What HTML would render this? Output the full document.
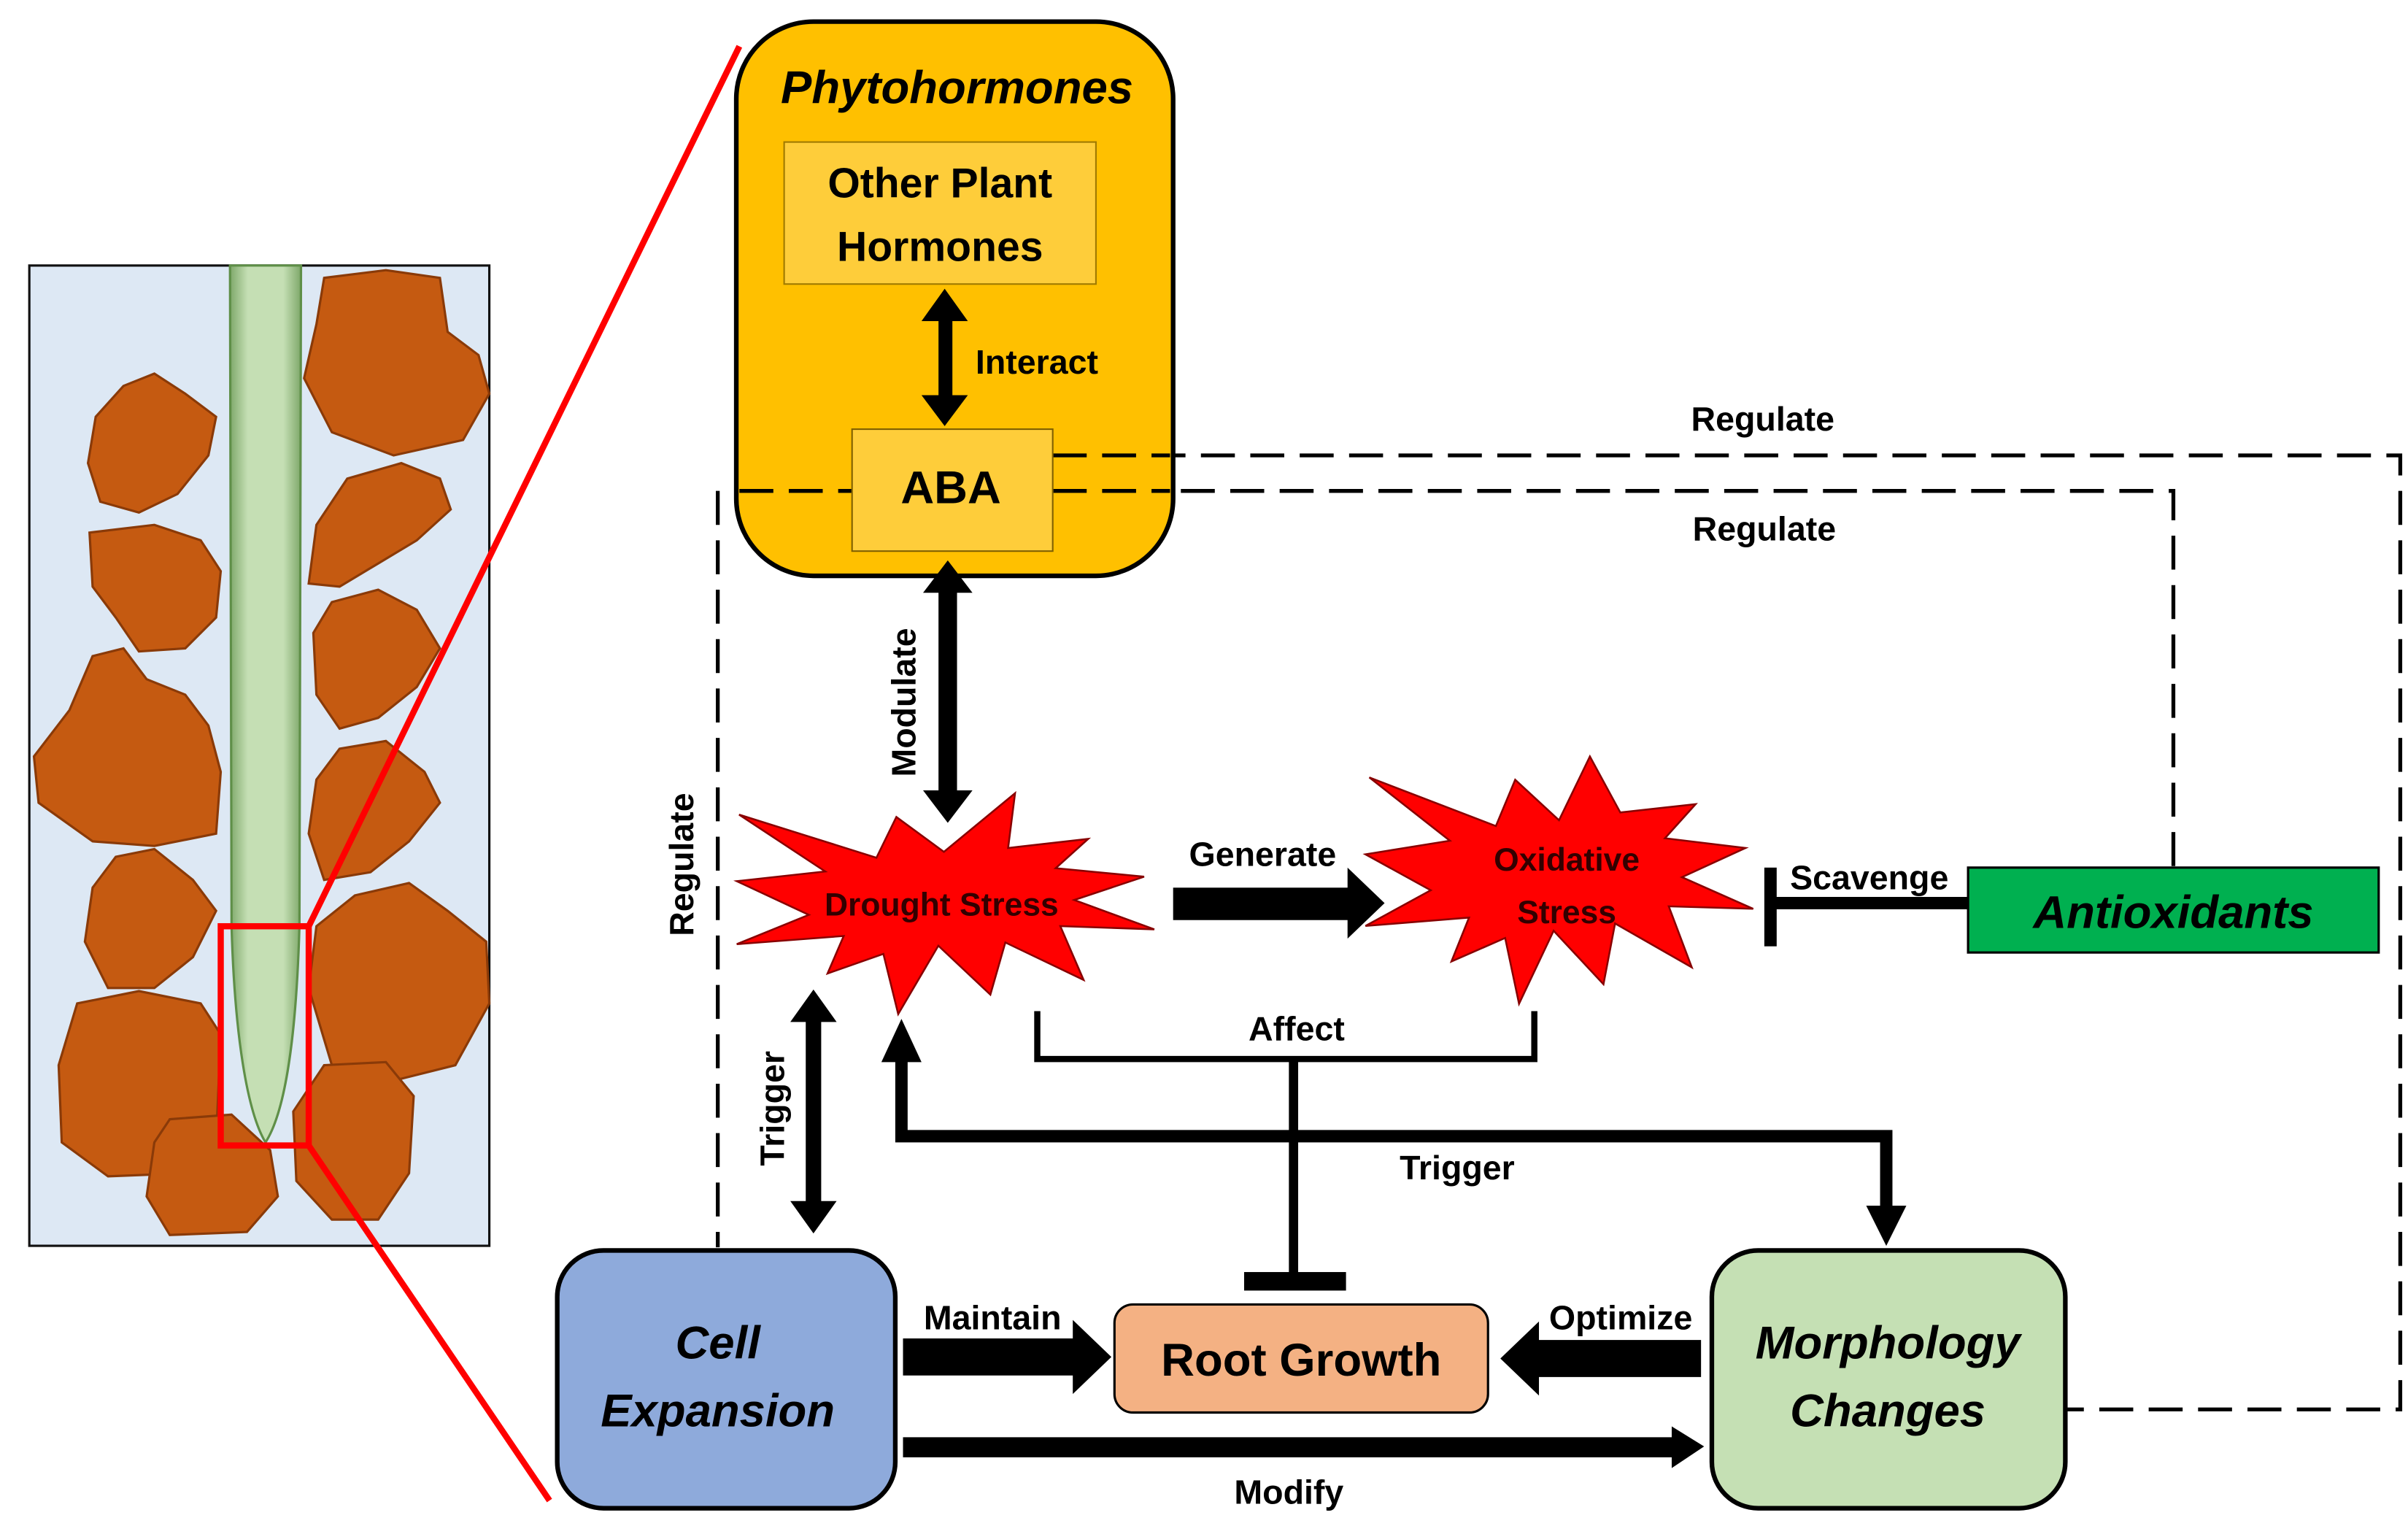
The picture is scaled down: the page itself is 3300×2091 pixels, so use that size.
<!DOCTYPE html>
<html><head><meta charset="utf-8"><style>
html,body{margin:0;padding:0;background:#fff}
svg{display:block}
text{font-family:"Liberation Sans",sans-serif;font-weight:bold}
</style></head><body>
<svg width="3300" height="2091" viewBox="0 0 1560 988.5" preserveAspectRatio="none" xmlns="http://www.w3.org/2000/svg">
<defs>
<linearGradient id="rg" x1="0" x2="1" y1="0" y2="0">
<stop offset="0" stop-color="#7ea86a"/><stop offset="0.25" stop-color="#c5dfb4"/><stop offset="0.75" stop-color="#c5dfb4"/><stop offset="1" stop-color="#7ea86a"/>
</linearGradient>
</defs>
<!-- left panel -->
<rect x="19" y="172" width="298" height="635" fill="#dde8f4" stroke="#111" stroke-width="1.5"/>
<g fill="#c55a11" stroke="#8a3a08" stroke-width="1.5">
<polygon points="80,250 100,242 120,255 140,270 135,295 115,320 90,332 65,325 57,300 62,270"/>
<polygon points="58,345 100,340 130,350 143,370 140,400 120,420 90,422 75,400 60,380"/>
<polygon points="60,425 80,420 95,440 120,450 135,470 143,500 140,540 100,548 60,545 25,520 22,490 45,460"/>
<polygon points="75,555 100,550 125,570 140,590 125,620 100,640 70,640 55,610 60,575"/>
<polygon points="50,650 90,642 130,650 143,670 140,740 120,760 70,762 40,740 38,690"/>
<polygon points="110,725 150,722 175,745 180,775 160,798 110,800 95,775 100,740"/>
<polygon points="210,180 250,175 285,180 290,215 310,230 317,255 300,285 255,295 215,280 197,245 205,210"/>
<polygon points="225,310 260,300 285,310 292,330 270,350 245,365 220,380 200,378 205,340"/>
<polygon points="215,390 245,382 270,395 285,420 270,445 245,465 220,472 205,450 203,410"/>
<polygon points="220,485 250,480 275,500 285,520 265,545 240,565 210,570 200,540 205,505"/>
<polygon points="230,580 265,572 290,590 315,610 317,650 295,690 255,700 215,690 200,640 205,600"/>
<polygon points="210,690 250,688 268,710 265,760 245,790 215,790 192,765 190,720"/>
</g>
<path d="M149,172 L195,172 L194,600 C192,670 185,720 172,740 C160,720 152,670 150,600 Z" fill="url(#rg)" stroke="#5f8f48" stroke-width="1.5"/>
<rect x="143" y="600" width="57" height="142" fill="none" stroke="#ff0000" stroke-width="4"/>
<line x1="200" y1="600" x2="479" y2="30" stroke="#ff0000" stroke-width="4"/>
<line x1="200" y1="742" x2="356" y2="972" stroke="#ff0000" stroke-width="4"/>

<!-- dashed regulate lines -->
<g fill="none" stroke="#000" stroke-width="2.5" stroke-dasharray="22,10">
<polyline points="682,295 1555,295 1555,913 1338,913"/>
<polyline points="477,318 1408,318 1408,562"/>
<line x1="465" y1="318" x2="465" y2="808"/>
</g>

<!-- Phytohormones -->
<rect x="477" y="14" width="283" height="359" rx="50" fill="#ffc000" stroke="#000" stroke-width="3"/>
<g fill="none" stroke="#000" stroke-width="2.5" stroke-dasharray="22,10">
<line x1="479" y1="318" x2="552" y2="318"/>
<line x1="682" y1="318" x2="758" y2="318"/>
<line x1="682" y1="295" x2="758" y2="295"/>
</g>
<text x="620" y="67" font-size="30" font-style="italic" text-anchor="middle">Phytohormones</text>
<rect x="508" y="92" width="202" height="92" fill="#fecd3a" stroke="#a07a00" stroke-width="1"/>
<text x="609" y="128" font-size="27" text-anchor="middle">Other Plant</text>
<text x="609" y="169" font-size="27" text-anchor="middle">Hormones</text>
<rect x="552" y="278" width="130" height="79" fill="#fecd3a" stroke="#806000" stroke-width="1"/>
<text x="616" y="326" font-size="30" text-anchor="middle">ABA</text>
<!-- interact -->
<rect x="608" y="205" width="9" height="54" fill="#000"/>
<polygon points="612,187 597,208 627,208" fill="#000"/>
<polygon points="612,276 597,256 627,256" fill="#000"/>
<text x="632" y="242" font-size="22">Interact</text>
<text x="1142" y="279" font-size="22" text-anchor="middle">Regulate</text>
<text x="1143" y="350" font-size="22" text-anchor="middle">Regulate</text>
<text transform="translate(449,560) rotate(-90)" font-size="22" text-anchor="middle">Regulate</text>

<!-- modulate -->
<rect x="608" y="382" width="12" height="132" fill="#000"/>
<polygon points="614,363 598,384 630,384" fill="#000"/>
<polygon points="614,533 598,512 630,512" fill="#000"/>
<text transform="translate(593,455) rotate(-90)" font-size="22" text-anchor="middle">Modulate</text>

<!-- Drought star -->
<polygon points="478.8,527.7 567.8,555.6 580.7,529.2 611.5,551.8 657.6,513.8 653.1,549.3 705,543.4 683.9,562.4 741.2,567.9 695.9,583 747.8,602 686.9,599.9 702,634.8 651.3,610.5 641.6,644.3 607.9,612.6 581.9,656.9 572.3,617.9 536.1,630.6 546.6,606.3 477.3,611.6 524,592.6 477.3,570.8 534.6,564.5" fill="#ff0000" stroke="#800" stroke-width="1.2"/>
<text x="610" y="593" font-size="21" text-anchor="middle" fill="#300">Drought Stress</text>

<!-- generate -->
<rect x="760" y="575" width="115" height="21" fill="#000"/>
<polygon points="873,562 897,585 873,608" fill="#000"/>
<text x="818" y="561" font-size="22" text-anchor="middle">Generate</text>

<!-- oxidative star -->
<polygon points="887.1,503.6 969.1,535.1 981.6,505.1 1010,531.3 1030,490 1049.7,526.3 1098.5,520.9 1078.6,543 1130.8,549.3 1089.6,568.2 1135.8,588.7 1081.1,587.1 1096,626.6 1046.3,598.2 1038.8,637.6 1006.5,602.9 984.1,650.2 975.1,607.6 940.3,622.8 951.7,594.4 884.6,599.8 926.9,576.7 884.6,553.4 939.3,544.6" fill="#ff0000" stroke="#800" stroke-width="1.2"/>
<text x="1015" y="564" font-size="21" text-anchor="middle" fill="#300">Oxidative</text>
<text x="1015" y="598" font-size="21" text-anchor="middle" fill="#300">Stress</text>

<!-- scavenge -->
<rect x="1147" y="581" width="128" height="8" fill="#000"/>
<rect x="1143" y="562" width="8" height="51" fill="#000"/>
<text x="1211" y="576" font-size="22" text-anchor="middle">Scavenge</text>
<rect x="1275" y="562" width="266" height="55" fill="#00b050" stroke="#000" stroke-width="1.5"/>
<text x="1408" y="601" font-size="30" font-style="italic" text-anchor="middle">Antioxidants</text>

<!-- affect -->
<polyline points="672,655 672,686 994,686 994,655" fill="none" stroke="#000" stroke-width="4"/>
<rect x="835" y="686" width="6" height="142" fill="#000"/>
<rect x="806" y="824" width="66" height="12" fill="#000"/>
<text x="840" y="674" font-size="22" text-anchor="middle">Affect</text>

<!-- trigger loop -->
<polyline points="584,685 584,736 1222,736 1222,785" fill="none" stroke="#000" stroke-width="8"/>
<polygon points="584,660 571,688 597,688" fill="#000"/>
<polygon points="1222,807 1209,781 1235,781" fill="#000"/>
<text x="944" y="764" font-size="22" text-anchor="middle">Trigger</text>

<!-- trigger double -->
<rect x="522" y="660" width="10" height="120" fill="#000"/>
<polygon points="527,641 512,662 542,662" fill="#000"/>
<polygon points="527,799 512,778 542,778" fill="#000"/>
<text transform="translate(508,718) rotate(-90)" font-size="22" text-anchor="middle">Trigger</text>

<!-- bottom boxes -->
<rect x="361" y="810" width="219" height="167" rx="30" fill="#8eaadb" stroke="#000" stroke-width="3"/>
<text x="465" y="880" font-size="30" font-style="italic" text-anchor="middle">Cell</text>
<text x="465" y="924" font-size="30" font-style="italic" text-anchor="middle">Expansion</text>
<rect x="722" y="845" width="242" height="70" rx="12" fill="#f4b183" stroke="#000" stroke-width="1.5"/>
<text x="843" y="891" font-size="30" text-anchor="middle">Root Growth</text>
<rect x="1109" y="810" width="229" height="167" rx="30" fill="#c5e0b4" stroke="#000" stroke-width="3"/>
<text x="1223" y="880" font-size="30" font-style="italic" text-anchor="middle">Morphology</text>
<text x="1223" y="924" font-size="30" font-style="italic" text-anchor="middle">Changes</text>

<!-- maintain -->
<rect x="585" y="867" width="112" height="24" fill="#000"/>
<polygon points="695,855 720,879 695,903" fill="#000"/>
<text x="643" y="861" font-size="22" text-anchor="middle">Maintain</text>
<!-- optimize -->
<rect x="995" y="868" width="107" height="24" fill="#000"/>
<polygon points="997,856 972,880 997,904" fill="#000"/>
<text x="1050" y="861" font-size="22" text-anchor="middle">Optimize</text>
<!-- modify -->
<rect x="585" y="931" width="500" height="13" fill="#000"/>
<polygon points="1083,924 1104,937 1083,951" fill="#000"/>
<text x="835" y="974" font-size="22" text-anchor="middle">Modify</text>
</svg>
</body></html>
